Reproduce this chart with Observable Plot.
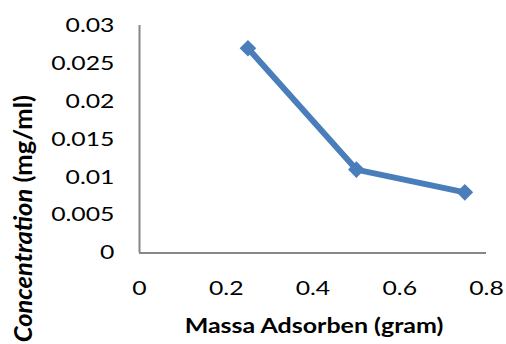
<!DOCTYPE html>
<html>
<head>
<meta charset="utf-8">
<script src="https://cdn.jsdelivr.net/npm/d3@7"></script>
<script src="https://cdn.jsdelivr.net/npm/@observablehq/plot@0.6"></script>
<style>
  html, body { margin: 0; padding: 0; background: #fff; }
  svg { display: block; }
</style>
</head>
<body>
<div id="chart"></div>
<script>
const massa = [0.25, 0.5, 0.75];
const concentration = [0.027, 0.011, 0.008];
const xTicks = [0, 0.2, 0.4, 0.6, 0.8];
const yTicks = [0, 0.005, 0.01, 0.015, 0.02, 0.025, 0.03];
const xTitle = "Massa Adsorben (gram)";
const yTitleItalic = "Concentration";
const yTitleRest = " (mg/ml)";

const data = massa.map((m, i) => ({x: m, y: concentration[i]}));
const blue = "#4a7ebb";
const axisGray = "#878787";
const font = "Lato, 'Open Sans', sans-serif";

const chart = Plot.plot({
  width: 506,
  height: 344,
  marginLeft: 139,
  marginRight: 20,
  marginTop: 25,
  marginBottom: 91.5,
  style: {fontFamily: font, fontSize: "20px", color: "#000", background: "#fff"},
  x: {domain: [0, 0.8]},
  y: {domain: [0, 0.03]},
  marks: [
    Plot.axisX({ticks: xTicks, tickSize: 0, tickPadding: 28, tickFormat: d => String(d), label: null, fill: "#000"}),
    Plot.axisY({ticks: yTicks, tickSize: 0, tickPadding: 25, tickFormat: d => String(d), label: null, fill: "#000"}),
    Plot.ruleX([0], {stroke: axisGray, strokeWidth: 2}),
    Plot.ruleY([0], {stroke: axisGray, strokeWidth: 2}),
    Plot.line(data, {x: "x", y: "y", stroke: blue, strokeWidth: 6}),
    Plot.dot(data, {x: "x", y: "y", symbol: "diamond2", r: 7.5, fill: blue, stroke: "none"})
  ]
});

document.getElementById("chart").appendChild(chart);

const svg = d3.select(chart);

// horizontal stretch of tick labels to mimic the reference's wide glyphs
function stretch(sel, k, anchor) {
  sel.each(function() {
    const parent = this.parentNode;
    const g = document.createElementNS("http://www.w3.org/2000/svg", "g");
    parent.insertBefore(g, this);
    g.appendChild(this);
    const b = g.getBBox();
    const ax = anchor === "end" ? b.x + b.width : b.x + b.width / 2;
    g.setAttribute("transform", `translate(${ax},0) scale(${k},1) translate(${-ax},0)`);
  });
}
stretch(svg.selectAll('g[aria-label="x-axis tick label"] text'), 1.24, "middle");
stretch(svg.selectAll('g[aria-label="y-axis tick label"] text'), 1.24, "end");

svg.append("text")
  .attr("transform", "translate(314,333) scale(1.19,1)")
  .attr("text-anchor", "middle")
  .attr("font-family", font)
  .attr("font-size", 21)
  .attr("font-weight", "bold")
  .attr("fill", "#000")
  .text(xTitle);

const yt = svg.append("text")
  .attr("transform", "translate(32,95) rotate(-90)")
  .attr("text-anchor", "end")
  .attr("font-family", font)
  .attr("font-size", 25.5)
  .attr("font-weight", "bold")
  .attr("fill", "#000");
yt.append("tspan").attr("font-style", "italic").text(yTitleItalic);
yt.append("tspan").text(yTitleRest);
</script>
</body>
</html>
